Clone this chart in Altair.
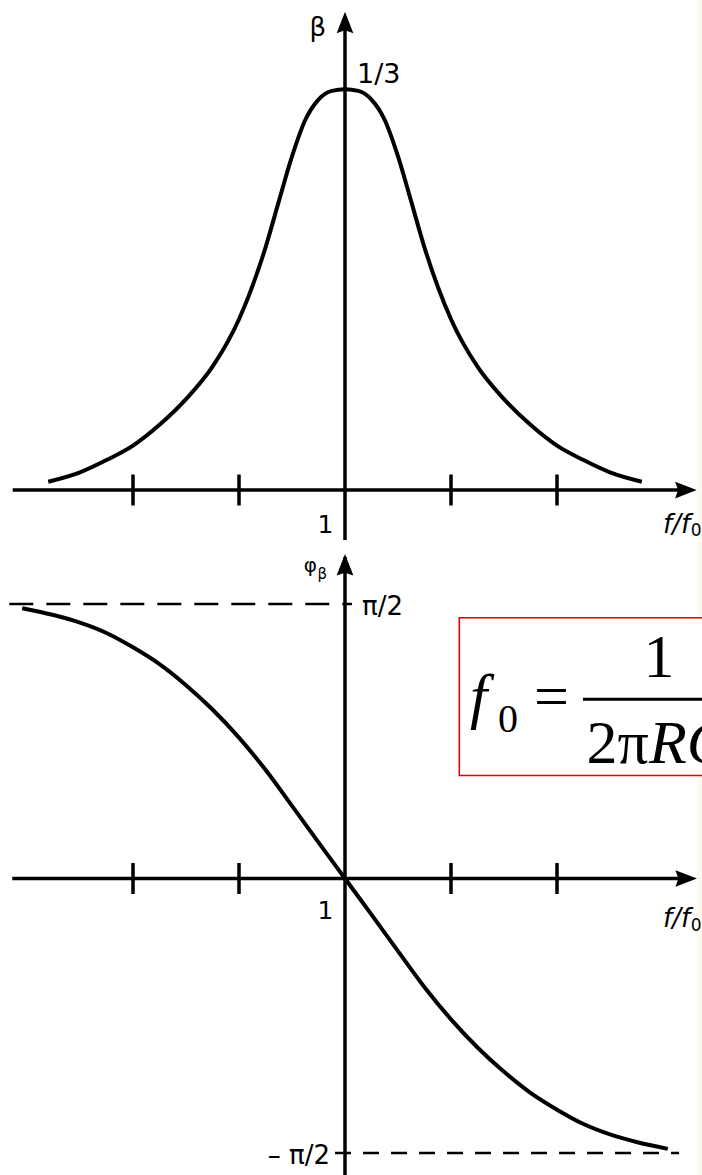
import math
import altair as alt
import pandas as pd

PI = math.pi

# x runs in tick units: equal logarithmic steps of f/f0, 0 is f = f0
TICKS = [-2, -1, 1, 2]

# amplitude response beta(f/f0), peak 1/3 at f = f0
beta_u = [-2.8, -2.5, -2.25, -2.0, -1.75, -1.5, -1.25, -1.0, -0.75, -0.625, -0.5, -0.375, -0.25, -0.125, 0.0,
          0.125, 0.25, 0.375, 0.5, 0.625, 0.75, 1.0, 1.25, 1.5, 1.75, 2.0, 2.25, 2.5, 2.8]
beta_v = [0.0069, 0.0147, 0.0249, 0.0369, 0.0542, 0.0756, 0.1026, 0.1421, 0.2017, 0.2399, 0.2775, 0.3078, 0.3248,
          0.3320, 0.3333,
          0.3320, 0.3248, 0.3078, 0.2775, 0.2399, 0.2017, 0.1421, 0.1026, 0.0756, 0.0542, 0.0369, 0.0249, 0.0147,
          0.0069]

# phase response phi_beta(f/f0) in radians, +pi/2 ... -pi/2
phi_u = [-3.045, -2.75, -2.5, -2.25, -2.0, -1.75, -1.5, -1.25, -1.0, -0.75, -0.5, -0.25, 0.0,
         0.25, 0.5, 0.75, 1.0, 1.25, 1.5, 1.75, 2.0, 2.25, 2.5, 2.75, 3.045]
phi_v = [1.547, 1.5078, 1.4644, 1.405, 1.3228, 1.2266, 1.106, 0.9669, 0.8058, 0.622, 0.4156, 0.2068, 0.0,
         -0.2068, -0.4156, -0.622, -0.8058, -0.9669, -1.106, -1.2266, -1.3228, -1.405, -1.4644, -1.5078, -1.547]

SANS = "DejaVu Sans"
SERIF = "Liberation Serif"
INK = "#000000"
W = 702
H_TOP, H_BOT = 540, 635

X_DOM = [-3.2547, 3.3679]
BETA_DOM = [-0.04159, 0.40763]
PHI_DOM = [-1.7081, 1.9256]

ARROW = "M0,0L0.62,1.6L0,1.38L-0.62,1.6Z"


def scales(ydom):
    return (alt.Scale(domain=X_DOM, nice=False, zero=False),
            alt.Scale(domain=ydom, nice=False, zero=False))


def enc(xs, ys, **extra):
    return dict(x=alt.X("x:Q", scale=xs, axis=None), y=alt.Y("y:Q", scale=ys, axis=None), **extra)


def hline(xs, ys, x0, x1, y, width, dash=None, clip=False):
    df = pd.DataFrame({"x": [x0], "x2": [x1], "y": [y]})
    kw = dict(color=INK, strokeWidth=width, clip=clip)
    if dash:
        kw["strokeDash"] = dash
    return alt.Chart(df).mark_rule(**kw).encode(**enc(xs, ys, x2="x2:Q"))


def vline(xs, ys, x, y0, y1, width):
    df = pd.DataFrame({"x": [x], "y": [y0], "y2": [y1]})
    return alt.Chart(df).mark_rule(color=INK, strokeWidth=width).encode(**enc(xs, ys, y2="y2:Q"))


def arrow(xs, ys, x, y, angle):
    df = pd.DataFrame({"x": [x], "y": [y]})
    return alt.Chart(df).mark_point(shape=ARROW, size=729, filled=True, fill=INK, stroke=None,
                                    opacity=1, angle=angle).encode(**enc(xs, ys))


def text(xs, ys, x, y, s, size, align="left", font=SANS, style="normal", clip=False):
    df = pd.DataFrame({"x": [x], "y": [y], "t": [s]})
    return alt.Chart(df).mark_text(font=font, fontSize=size, fontStyle=style, align=align,
                                   baseline="alphabetic", color=INK, clip=clip).encode(
        **enc(xs, ys, text="t:N"))


def ticks(xs, ys):
    df = pd.DataFrame({"x": TICKS, "y": [0] * len(TICKS)})
    return alt.Chart(df).mark_tick(orient="vertical", size=31, thickness=3.5, color=INK,
                                   opacity=1).encode(**enc(xs, ys))


def curve(xs, ys, u, v):
    df = pd.DataFrame({"x": u, "y": v})
    return alt.Chart(df).mark_line(color=INK, strokeWidth=4, interpolate="monotone",
                                   strokeCap="butt").encode(**enc(xs, ys))


def edge_tint(xs, ys, ydom):
    df = pd.DataFrame({"x": [3.325], "x2": [X_DOM[1]], "y": [ydom[0]], "y2": [ydom[1]]})
    return alt.Chart(df).mark_rect(fill="#fcfaec", opacity=1).encode(
        **enc(xs, ys, x2="x2:Q", y2="y2:Q"))


# ---- amplitude panel ----
xs, ys = scales(BETA_DOM)
top = alt.layer(
    edge_tint(xs, ys, BETA_DOM),
    curve(xs, ys, beta_u, beta_v),
    hline(xs, ys, -3.135, 3.25, 0, 3.5),
    vline(xs, ys, 0, 0.385, BETA_DOM[0], 3.5),
    ticks(xs, ys),
    arrow(xs, ys, 3.318, 0, 90),
    arrow(xs, ys, 0, 0.3979, 0),
    text(xs, ys, -0.179, 0.3777, "β", 26, align="right"),
    text(xs, ys, 0.113, 0.3386, "1/3", 27),
    text(xs, ys, -0.1085, -0.0358, "1", 25, align="right"),
    text(xs, ys, 3.0, -0.0358, "f/f", 26, style="italic"),
    text(xs, ys, 3.262, -0.0383, "0", 17),
).properties(width=W, height=H_TOP)

# ---- phase panel ----
xs, ys = scales(PHI_DOM)
box = pd.DataFrame({"x": [1.0783], "x2": [3.9], "y": [1.4924], "y2": [0.5894]})
formula_box = alt.Chart(box).mark_rect(fill="white", stroke="#e60000", strokeWidth=1.6,
                                       clip=True).encode(**enc(xs, ys, x2="x2:Q", y2="y2:Q"))

bottom = alt.layer(
    edge_tint(xs, ys, PHI_DOM),
    hline(xs, ys, -3.167, 0.066, PI / 2, 2.5, dash=[24, 13]),
    hline(xs, ys, -0.0943, 3.151, -PI / 2, 2.5, dash=[16, 12]),
    curve(xs, ys, phi_u, phi_v),
    hline(xs, ys, -3.139, 3.25, 0, 3.5),
    vline(xs, ys, 0, 1.84, PHI_DOM[0], 3.5),
    ticks(xs, ys),
    arrow(xs, ys, 3.3208, 0, 90),
    arrow(xs, ys, 0, 1.8569, 0),
    text(xs, ys, -0.264, 1.7562, "φ", 20, align="right"),
    text(xs, ys, -0.2594, 1.7138, "β", 15),
    text(xs, ys, 0.1604, 1.5078, "π/2", 26),
    text(xs, ys, -0.1415, -1.6337, "– π/2", 26, align="right"),
    text(xs, ys, -0.1085, -0.2318, "1", 25, align="right"),
    text(xs, ys, 3.0, -0.2775, "f/f", 26, style="italic"),
    text(xs, ys, 3.262, -0.30, "0", 17),
    formula_box,
    text(xs, ys, 1.1792, 0.9265, "f", 62, font=SERIF, style="italic"),
    text(xs, ys, 1.4434, 0.8383, "0", 40, font=SERIF),
    text(xs, ys, 1.9481, 0.9265, "=", 62, align="center", font=SERIF),
    text(xs, ys, 2.9623, 1.1531, "1", 62, align="center", font=SERIF),
    hline(xs, ys, 2.2453, 3.9, 1.0254, 3, clip=True),
    text(xs, ys, 2.2783, 0.6609, "2π", 62, font=SERIF, clip=True),
    text(xs, ys, 2.8679, 0.6609, "RC", 62, font=SERIF, style="italic", clip=True),
).properties(width=W, height=H_BOT)

chart = alt.vconcat(top, bottom, spacing=0).properties(
    padding=0, background="white"
).configure_view(stroke=None)

chart.save("out.html", embed_options={"renderer": "svg", "actions": False})
